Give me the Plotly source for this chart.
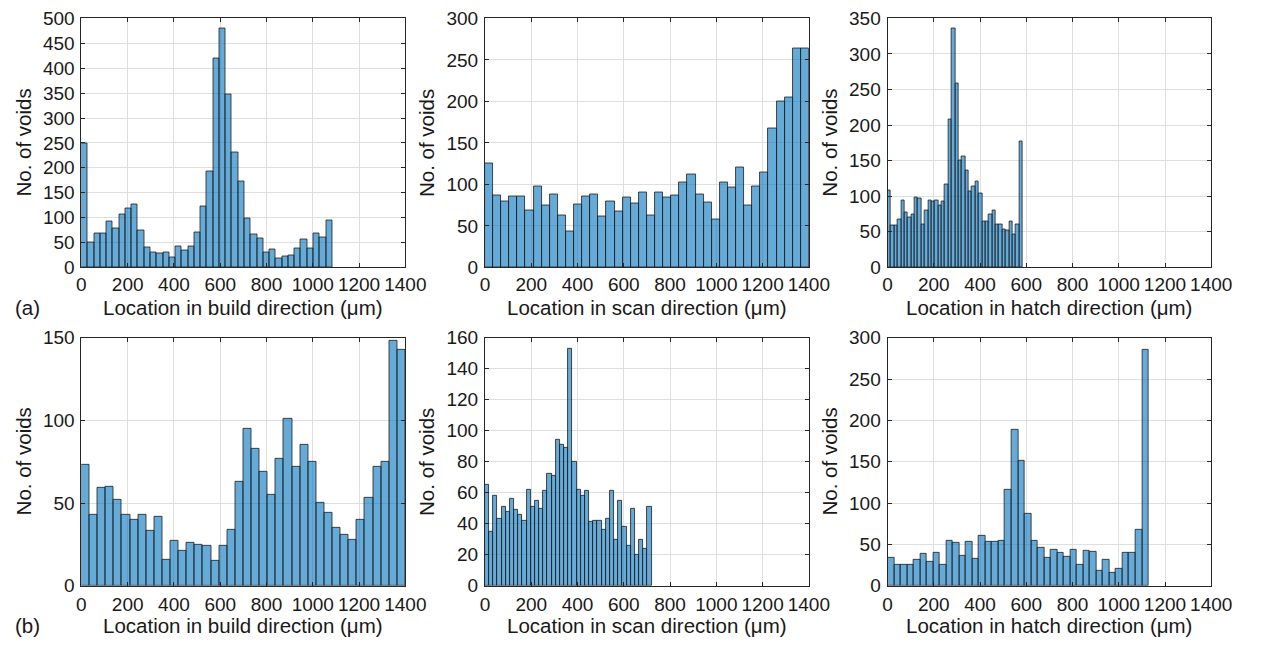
import numpy as np
import plotly.graph_objects as go

# ---------------- data (counts per bin, 40 bins each) ----------------
a_build_counts = [249, 50, 68, 69, 93, 79, 106, 118, 126, 75, 41, 30, 28, 30, 21, 43, 35, 43, 70, 123,
                  193, 419, 480, 348, 230, 172, 99, 67, 58, 30, 36, 19, 23, 25, 38, 56, 38, 69, 60, 95]
a_build_span = 1084

a_scan_counts = [125, 87, 79, 85, 85, 69, 97, 75, 88, 63, 43, 76, 85, 88, 61, 79, 68, 84, 77, 90,
                 63, 90, 84, 87, 102, 112, 88, 78, 58, 103, 96, 120, 75, 97, 115, 168, 200, 205, 264, 264]
a_scan_span = 1400

a_hatch_counts = [108, 59, 59, 67, 94, 77, 70, 75, 98, 97, 61, 80, 94, 93, 94, 87, 93, 117, 208, 336,
                  258, 150, 156, 137, 107, 114, 121, 104, 64, 65, 75, 80, 60, 61, 53, 52, 64, 46, 61, 177]
a_hatch_span = 584

b_build_counts = [73, 43, 59, 60, 52, 43, 40, 43, 33, 42, 16, 27, 21, 26, 25, 24, 15, 24, 34, 63,
                  95, 83, 69, 55, 77, 101, 72, 85, 75, 50, 44, 35, 31, 28, 40, 53, 72, 75, 148, 143]
b_build_span = 1400

b_scan_counts = [65, 35, 58, 43, 51, 48, 56, 49, 46, 42, 62, 51, 55, 50, 61, 72, 71, 94, 91, 89,
                 153, 80, 62, 58, 61, 41, 42, 42, 36, 43, 61, 30, 55, 38, 26, 50, 20, 30, 24, 51]
b_scan_span = 720

b_hatch_counts = [34, 25, 25, 25, 32, 39, 29, 40, 26, 55, 52, 36, 53, 33, 61, 53, 53, 55, 116, 189,
                  151, 87, 54, 46, 34, 44, 40, 35, 44, 25, 42, 41, 18, 31, 16, 20, 40, 40, 68, 286]
b_hatch_span = 1129

x_titles = ["Location in build direction (\u03bcm)",
            "Location in scan direction (\u03bcm)",
            "Location in hatch direction (\u03bcm)"]
y_title = "No. of voids"
row_labels = ["(a)", "(b)"]

panels = [
    (a_build_counts, a_build_span, 500, 50),
    (a_scan_counts, a_scan_span, 300, 50),
    (a_hatch_counts, a_hatch_span, 350, 50),
    (b_build_counts, b_build_span, 150, 50),
    (b_scan_counts, b_scan_span, 160, 20),
    (b_hatch_counts, b_hatch_span, 300, 50),
]

# ---------------- layout geometry (pixels) ----------------
W, H = 1268, 650
col_px = [(78, 408.7), (490, 820.7), (901, 1231.5)]
row_px = [(8.7, 266), (338.7, 595)]

FONT = "Liberation Sans, Arial, sans-serif"
TXT = "rgb(25,25,25)"
BAR = "rgba(0,114,189,0.6)"
EDGE = "rgb(30,30,30)"
GRID = "rgb(223,223,223)"
TICK_SIZE = 19
LABEL_SIZE = 20.5

fig = go.Figure()
layout = dict(
    width=W, height=H,
    margin=dict(l=0, r=0, t=0, b=0),
    paper_bgcolor="white", plot_bgcolor="white",
    showlegend=False, bargap=0,
    font=dict(family=FONT, size=TICK_SIZE, color=TXT),
)
annotations = []

for i, (counts, span, ymax, ydt) in enumerate(panels):
    r, c = divmod(i, 3)
    n = len(counts)
    bw = span / n
    left = np.arange(n) * bw
    k = "" if i == 0 else str(i + 1)
    fig.add_trace(go.Bar(
        x=left, y=counts, width=bw, offset=0,
        marker=dict(color=BAR, line=dict(color=EDGE, width=0.8)),
        xaxis="x" + k, yaxis="y" + k,
    ))
    x0, x1 = col_px[c]
    y0, y1 = row_px[r]
    axcommon = dict(
        showline=True, linecolor="rgb(38,38,38)", linewidth=1, mirror="allticks",
        ticks="inside", ticklen=4, tickcolor="rgb(38,38,38)",
        showgrid=True, gridcolor=GRID, gridwidth=1, zeroline=False,
        tickfont=dict(family=FONT, size=TICK_SIZE, color=TXT), fixedrange=True,
    )
    layout["xaxis" + k] = dict(
        axcommon, domain=[x0 / W, x1 / W], range=[0, 1400], dtick=200, tick0=0,
        anchor="y" + k, ticklabelstandoff=(1 if r == 1 else 0),
    )
    layout["yaxis" + k] = dict(
        axcommon, domain=[1 - y1 / H, 1 - y0 / H], range=[0, ymax], dtick=ydt, tick0=0,
        anchor="x" + k, ticklabelstandoff=2,
    )
    # x-axis title
    annotations.append(dict(
        text=x_titles[c], xref="paper", yref="paper",
        x=(x0 + x1) / 2 / W, y=1 - (y1 + 41) / H, xanchor="center", yanchor="middle",
        showarrow=False, font=dict(family=FONT, size=LABEL_SIZE, color=TXT),
    ))
    # y-axis title
    annotations.append(dict(
        text=y_title, xref="paper", yref="paper",
        x=(x0 - 59) / W, y=1 - (y0 + y1) / 2 / H, xanchor="center", yanchor="middle",
        textangle=-90, showarrow=False, font=dict(family=FONT, size=LABEL_SIZE, color=TXT),
    ))

for r, lab in enumerate(row_labels):
    annotations.append(dict(
        text=lab, xref="paper", yref="paper",
        x=23 / W, y=1 - (row_px[r][1] + 41) / H, xanchor="center", yanchor="middle",
        showarrow=False, font=dict(family=FONT, size=LABEL_SIZE, color=TXT),
    ))

layout["annotations"] = annotations
fig.update_layout(layout)
fig.write_html("out.html")
